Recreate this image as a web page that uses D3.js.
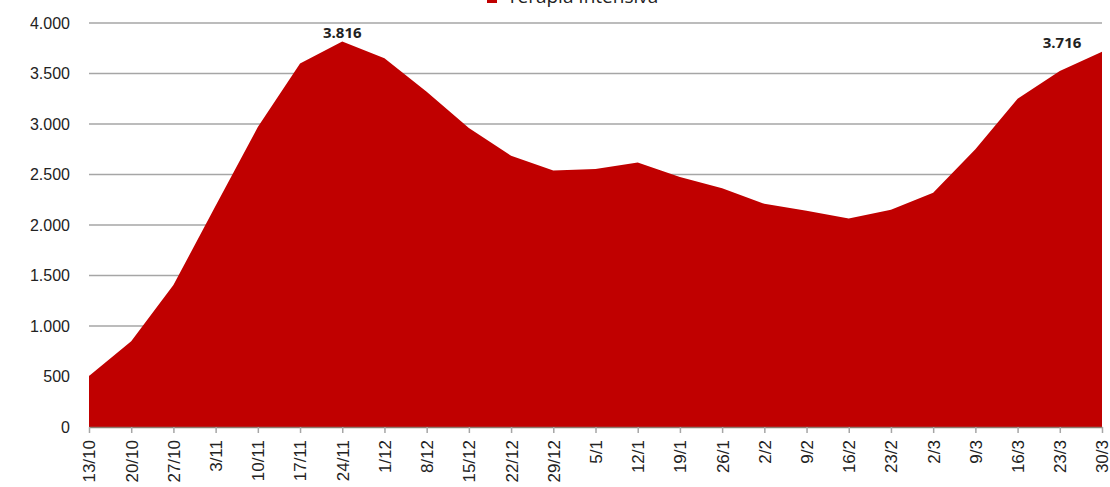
<!DOCTYPE html>
<html>
<head>
<meta charset="utf-8">
<script src="https://cdn.jsdelivr.net/npm/d3@7"></script>
<style>
  body { margin: 0; background: #ffffff; }
  svg { display: block; font-family: "Open Sans", "DejaVu Sans", sans-serif; }
</style>
</head>
<body>
<svg id="chart" width="1110" height="487"></svg>
<script>
// settimane (data di inizio)
var weeks = ["13/10", "20/10", "27/10", "3/11", "10/11", "17/11", "24/11", "1/12", "8/12", "15/12",
    "22/12", "29/12", "5/1", "12/1", "19/1", "26/1", "2/2", "9/2", "16/2", "23/2", "2/3", "9/3", "16/3", "23/3", "30/3"];
var seriesName = "Terapia Intensiva";
var icuValues = [505, 850, 1405, 2190, 2970, 3600, 3816, 3650, 3320, 2960,
    2685, 2540, 2555, 2620, 2475, 2365, 2210, 2140, 2065, 2150, 2320, 2750, 3250, 3525, 3716];
var yTicks = [0, 500, 1000, 1500, 2000, 2500, 3000, 3500, 4000];
var labelled = ["24/11", "30/3"];

var data = weeks.map(function (w, i) {
    return {week: w, value: icuValues[i]};
});

var svg = d3.select("#chart");
var plotLeft = 89, plotRight = 1102, plotTop = 23, plotBottom = 427;

var x = d3.scalePoint().domain(weeks).range([plotLeft, plotRight]);
var y = d3.scaleLinear().domain([0, 4000]).range([plotBottom, plotTop]);

var fmt = function (v) {
    return d3.format(",")(v).replace(/,/g, ".");
};

// griglia
svg.append("g")
    .selectAll("line")
    .data(yTicks.filter(function (d) { return d > 0; }))
    .enter()
    .append("line")
    .attr("x1", plotLeft)
    .attr("x2", plotRight)
    .attr("y1", function (d) { return y(d); })
    .attr("y2", function (d) { return y(d); })
    .style("stroke", "#a6a6a6")
    .style("stroke-width", 1.5);

// area
var area = d3.area()
    .x(function (d) { return x(d.week); })
    .y0(plotBottom)
    .y1(function (d) { return y(d.value); });

svg.append("path")
    .datum(data)
    .attr("d", area)
    .style("fill", "#c00000");

// asse y
var yAxis = svg.append("g")
    .attr("transform", "translate(" + plotLeft + ",0)")
    .call(d3.axisLeft(y).tickValues(yTicks).tickFormat(fmt).tickSize(0).tickPadding(19));
yAxis.select(".domain").remove();
yAxis.selectAll("text")
    .style("font-size", "16px")
    .style("fill", "#222");

// asse x
var xAxis = svg.append("g")
    .attr("transform", "translate(0," + plotBottom + ")")
    .call(d3.axisBottom(x).tickSize(6).tickSizeOuter(0));
xAxis.select(".domain").style("stroke", "#8c7b70").style("stroke-width", 1.5);
xAxis.selectAll(".tick line").style("stroke", "#a6a6a6").style("stroke-width", 1.5);
xAxis.selectAll("text")
    .style("font-size", "17px")
    .style("fill", "#222")
    .style("text-anchor", "end")
    .attr("transform", "rotate(-90)")
    .attr("x", -13)
    .attr("y", 0)
    .attr("dy", "0.35em");

// etichette dati
svg.append("g")
    .selectAll("text")
    .data(data.filter(function (d) { return labelled.indexOf(d.week) >= 0; }))
    .enter()
    .append("text")
    .attr("x", function (d, i) { return x(d.week) - (i == 1 ? 40 : 0); })
    .attr("y", function (d) { return y(d.value) - 4; })
    .style("text-anchor", "middle")
    .style("font-size", "15px")
    .style("font-weight", "bold")
    .style("fill", "#222")
    .text(function (d) { return fmt(d.value); });

// legenda (tagliata in alto)
var legend = svg.append("g").attr("transform", "translate(487,0)");
legend.append("rect")
    .attr("x", 0)
    .attr("y", -7)
    .attr("width", 10)
    .attr("height", 10)
    .style("fill", "#c00000");
legend.append("text")
    .attr("x", 20)
    .attr("y", 3)
    .style("font-size", "19px")
    .style("fill", "#222")
    .text(seriesName);
</script>
</body>
</html>
